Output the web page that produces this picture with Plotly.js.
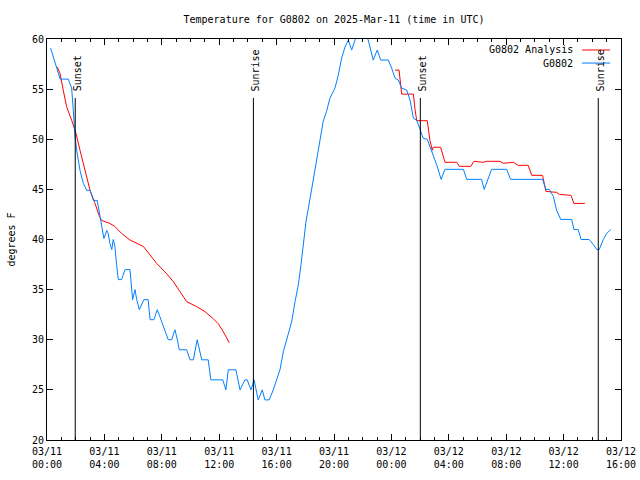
<!DOCTYPE html>
<html>
<head>
<meta charset="utf-8">
<script src="https://cdn.plot.ly/plotly-3.0.1.min.js"></script>
<style>html,body{margin:0;padding:0;background:#fff;}#chart{width:640px;height:480px;}</style>
</head>
<body>
<div id="chart"></div>
<script>
// Observed G0802 temperatures (deg F)
const obsTimes = [
"2025-03-11 00:15","2025-03-11 00:55","2025-03-11 01:29","2025-03-11 01:43","2025-03-11 01:50","2025-03-11 01:57",
"2025-03-11 02:04","2025-03-11 02:18","2025-03-11 02:32","2025-03-11 02:46","2025-03-11 03:00","2025-03-11 03:14",
"2025-03-11 03:30","2025-03-11 03:41","2025-03-11 03:53","2025-03-11 03:58","2025-03-11 04:10","2025-03-11 04:16",
"2025-03-11 04:23","2025-03-11 04:31","2025-03-11 04:37","2025-03-11 04:44","2025-03-11 04:51","2025-03-11 04:58",
"2025-03-11 05:12","2025-03-11 05:26","2025-03-11 05:47","2025-03-11 05:54","2025-03-11 05:58","2025-03-11 06:08",
"2025-03-11 06:15","2025-03-11 06:26","2025-03-11 06:36","2025-03-11 06:45","2025-03-11 07:03","2025-03-11 07:11",
"2025-03-11 07:27","2025-03-11 07:41","2025-03-11 07:52","2025-03-11 08:06","2025-03-11 08:27","2025-03-11 08:41",
"2025-03-11 08:55","2025-03-11 09:05","2025-03-11 09:13","2025-03-11 09:44","2025-03-11 09:58","2025-03-11 10:12",
"2025-03-11 10:28","2025-03-11 10:47","2025-03-11 11:14","2025-03-11 11:25","2025-03-11 12:15","2025-03-11 12:28",
"2025-03-11 12:38","2025-03-11 13:10","2025-03-11 13:27","2025-03-11 13:48","2025-03-11 13:57","2025-03-11 14:13",
"2025-03-11 14:26","2025-03-11 14:43","2025-03-11 15:00","2025-03-11 15:11","2025-03-11 15:29","2025-03-11 15:46",
"2025-03-11 16:00","2025-03-11 16:14","2025-03-11 16:28","2025-03-11 16:42","2025-03-11 17:03","2025-03-11 17:17",
"2025-03-11 17:31","2025-03-11 17:42","2025-03-11 17:52","2025-03-11 18:03","2025-03-11 18:20","2025-03-11 18:34",
"2025-03-11 18:48","2025-03-11 19:01","2025-03-11 19:15","2025-03-11 19:29","2025-03-11 19:43","2025-03-11 20:04",
"2025-03-11 20:18","2025-03-11 20:32","2025-03-11 20:46","2025-03-11 21:00","2025-03-11 21:14","2025-03-11 21:28",
"2025-03-11 21:40","2025-03-11 21:57","2025-03-11 22:14","2025-03-11 22:23","2025-03-11 22:44","2025-03-11 23:01",
"2025-03-11 23:15","2025-03-11 23:47","2025-03-12 00:01","2025-03-12 00:15","2025-03-12 00:29","2025-03-12 00:43",
"2025-03-12 01:04","2025-03-12 01:18","2025-03-12 01:32","2025-03-12 01:46","2025-03-12 02:02","2025-03-12 02:13",
"2025-03-12 02:30","2025-03-12 02:41","2025-03-12 02:55","2025-03-12 03:10","2025-03-12 03:28","2025-03-12 03:44",
"2025-03-12 05:01","2025-03-12 05:15","2025-03-12 06:17","2025-03-12 06:28","2025-03-12 06:59","2025-03-12 08:02",
"2025-03-12 08:18","2025-03-12 10:32","2025-03-12 10:46","2025-03-12 11:00","2025-03-12 11:17","2025-03-12 11:31",
"2025-03-12 11:48","2025-03-12 12:34","2025-03-12 12:43","2025-03-12 13:01","2025-03-12 13:13","2025-03-12 13:47",
"2025-03-12 14:04","2025-03-12 14:19","2025-03-12 14:29","2025-03-12 14:46","2025-03-12 15:00","2025-03-12 15:17"
];
const obsTemps = [
59.1,56.0,56.0,55.1,52.9,50.3,
48.9,46.9,45.6,44.9,44.9,43.9,
43.9,42.3,40.9,40.1,40.9,40.6,
39.6,39.0,40.0,39.3,37.5,36.0,
36.0,37.0,37.0,35.5,34.0,35.0,
34.0,33.0,33.6,34.0,34.0,32.0,
32.0,33.0,32.3,31.3,30.0,30.0,
31.0,30.0,29.0,29.0,28.0,28.0,
30.0,28.0,28.0,26.0,26.0,25.0,
27.0,27.0,25.0,26.0,26.0,25.0,
26.0,24.0,25.0,24.0,24.0,25.0,
26.0,27.0,28.8,30.1,31.8,33.8,
35.5,37.5,39.8,41.8,44.1,46.1,
47.8,49.8,51.8,52.8,54.1,55.1,
56.4,58.1,59.2,59.9,58.9,59.9,
60.6,61.0,60.5,59.9,57.9,58.9,
57.9,57.9,57.1,56.1,55.9,55.1,
54.9,53.9,52.1,51.9,50.9,50.1,
50.0,49.3,48.4,47.4,46.0,47.0,
47.0,46.0,46.0,45.0,47.0,47.0,
46.0,46.0,45.0,45.0,44.3,42.9,
42.0,42.0,41.0,41.0,40.0,40.0,
39.5,39.0,39.0,40.0,40.6,41.0
];

// G0802 Analysis (null = gap)
const anaTimes = [
"2025-03-11 00:43","2025-03-11 00:54","2025-03-11 01:08","2025-03-11 01:22","2025-03-11 01:43","2025-03-11 02:01",
"2025-03-11 02:18","2025-03-11 02:32","2025-03-11 02:46","2025-03-11 03:00","2025-03-11 03:21","2025-03-11 03:39",
"2025-03-11 03:49","2025-03-11 04:23","2025-03-11 04:44","2025-03-11 05:12","2025-03-11 05:47","2025-03-11 06:15",
"2025-03-11 06:43","2025-03-11 07:11","2025-03-11 07:39","2025-03-11 08:20","2025-03-11 08:48","2025-03-11 09:16",
"2025-03-11 09:44","2025-03-11 10:26","2025-03-11 11:01","2025-03-11 11:35","2025-03-11 11:56","2025-03-11 12:17",
"2025-03-11 12:42","2025-03-11 18:00",
"2025-03-12 00:15","2025-03-12 00:32","2025-03-12 00:43","2025-03-12 01:32","2025-03-12 01:38","2025-03-12 01:46",
"2025-03-12 02:30","2025-03-12 02:41","2025-03-12 02:51","2025-03-12 02:55","2025-03-12 03:26","2025-03-12 03:44",
"2025-03-12 04:33","2025-03-12 04:44","2025-03-12 05:32","2025-03-12 05:45","2025-03-12 06:24","2025-03-12 06:38",
"2025-03-12 07:34","2025-03-12 07:48","2025-03-12 08:30","2025-03-12 08:50","2025-03-12 09:32","2025-03-12 09:47",
"2025-03-12 10:32","2025-03-12 10:46","2025-03-12 11:31","2025-03-12 11:42","2025-03-12 12:31","2025-03-12 12:43",
"2025-03-12 13:29"
];
const anaTemps = [
57.2,56.6,54.9,53.25,51.9,50.6,
48.9,47.6,46.3,44.9,43.6,42.3,
41.9,41.6,41.3,40.6,39.95,39.6,
39.3,38.45,37.6,36.6,35.8,34.8,
33.8,33.3,32.8,32.1,31.6,30.8,
29.7,null,
56.9,56.9,54.5,54.5,53.1,51.85,
51.85,49.9,48.9,49.2,49.2,47.7,
47.7,47.3,47.3,47.8,47.7,47.8,
47.8,47.6,47.7,47.4,47.4,46.4,
46.4,44.8,44.7,44.5,44.4,43.6,
43.6
];

// Sun events
const sunTimes = ["2025-03-11 01:58","2025-03-11 14:23","2025-03-12 02:01","2025-03-12 14:25"];
const sunLabels = ["Sunset","Sunrise","Sunset","Sunrise"];

// Axis ticks
const xTickVals = ["2025-03-11 00:00","2025-03-11 04:00","2025-03-11 08:00","2025-03-11 12:00","2025-03-11 16:00",
  "2025-03-11 20:00","2025-03-12 00:00","2025-03-12 04:00","2025-03-12 08:00","2025-03-12 12:00","2025-03-12 16:00"];
const xTickText = ["03/11<br>00:00","03/11<br>04:00","03/11<br>08:00","03/11<br>12:00","03/11<br>16:00",
  "03/11<br>20:00","03/12<br>00:00","03/12<br>04:00","03/12<br>08:00","03/12<br>12:00","03/12<br>16:00"];
const seriesNames = ["G0802 Analysis","G0802"];
const seriesColors = ["#ff0000","#0080ff"];

const FONT = "DejaVu Sans Mono, Liberation Mono, monospace";

const traces = [
  {x: anaTimes, y: anaTemps, type: "scatter", mode: "lines", name: seriesNames[0],
   line: {color: seriesColors[0], width: 1}, connectgaps: false, showlegend: false},
  {x: obsTimes, y: obsTemps, type: "scatter", mode: "lines", name: seriesNames[1],
   line: {color: seriesColors[1], width: 1}, showlegend: false}
];

const shapes = sunTimes.map(t => ({type: "line", xref: "x", yref: "paper", x0: t, x1: t, y0: 0, y1: 0.853,
  line: {color: "#000", width: 1}}));
const annotations = sunTimes.map((t, i) => ({xref: "x", yref: "paper", x: t, y: 0.865, text: sunLabels[i],
  textangle: -90, showarrow: false, xanchor: "center", yanchor: "bottom", xshift: 2,
  font: {family: FONT, size: 10, color: "#000"}}));

// legend (gnuplot style: text left of sample)
const legY = [0.9726, 0.940];
seriesNames.forEach((n, i) => {
  annotations.push({xref: "paper", yref: "paper", x: 0.92, y: legY[i], text: n, showarrow: false,
    xanchor: "right", yanchor: "middle", font: {family: FONT, size: 10, color: "#000"}});
  shapes.push({type: "line", xref: "paper", yref: "paper", x0: 0.932, x1: 0.981, y0: legY[i], y1: legY[i],
    line: {color: seriesColors[i], width: 1}});
});

const layout = {
  width: 640, height: 480,
  margin: {l: 47, r: 19, t: 39, b: 40},
  paper_bgcolor: "#fff", plot_bgcolor: "#fff",
  font: {family: FONT, size: 10, color: "#000"},
  title: {text: "Temperature for G0802 on 2025-Mar-11 (time in UTC)", x: 0.5, xref: "paper",
    y: 0.96, yref: "container", yanchor: "middle", font: {family: FONT, size: 10, color: "#000"}},
  showlegend: false,
  xaxis: {type: "date", range: ["2025-03-11 00:00", "2025-03-12 16:00"], tickmode: "array",
    tickvals: xTickVals, ticktext: xTickText, ticks: "inside", ticklen: 6, tickcolor: "#000",
    showline: true, linecolor: "#000", linewidth: 1, mirror: "allticks", showgrid: false, zeroline: false,
    ticklabelstandoff: 2,
    minor: {dtick: 3600000, ticks: "inside", ticklen: 3, tickcolor: "#000", showgrid: false},
    tickfont: {family: FONT, size: 10, color: "#000"}, fixedrange: true},
  yaxis: {range: [20, 60], dtick: 5, tick0: 20, ticks: "inside", ticklen: 6, tickcolor: "#000",
    showline: true, linecolor: "#000", linewidth: 1, mirror: "allticks", showgrid: false, zeroline: false,
    title: {text: "degrees F", font: {family: FONT, size: 10, color: "#000"}, standoff: 14},
    tickfont: {family: FONT, size: 10, color: "#000"}, fixedrange: true},
  shapes: shapes,
  annotations: annotations
};

Plotly.newPlot("chart", traces, layout, {staticPlot: true});
</script>
</body>
</html>
